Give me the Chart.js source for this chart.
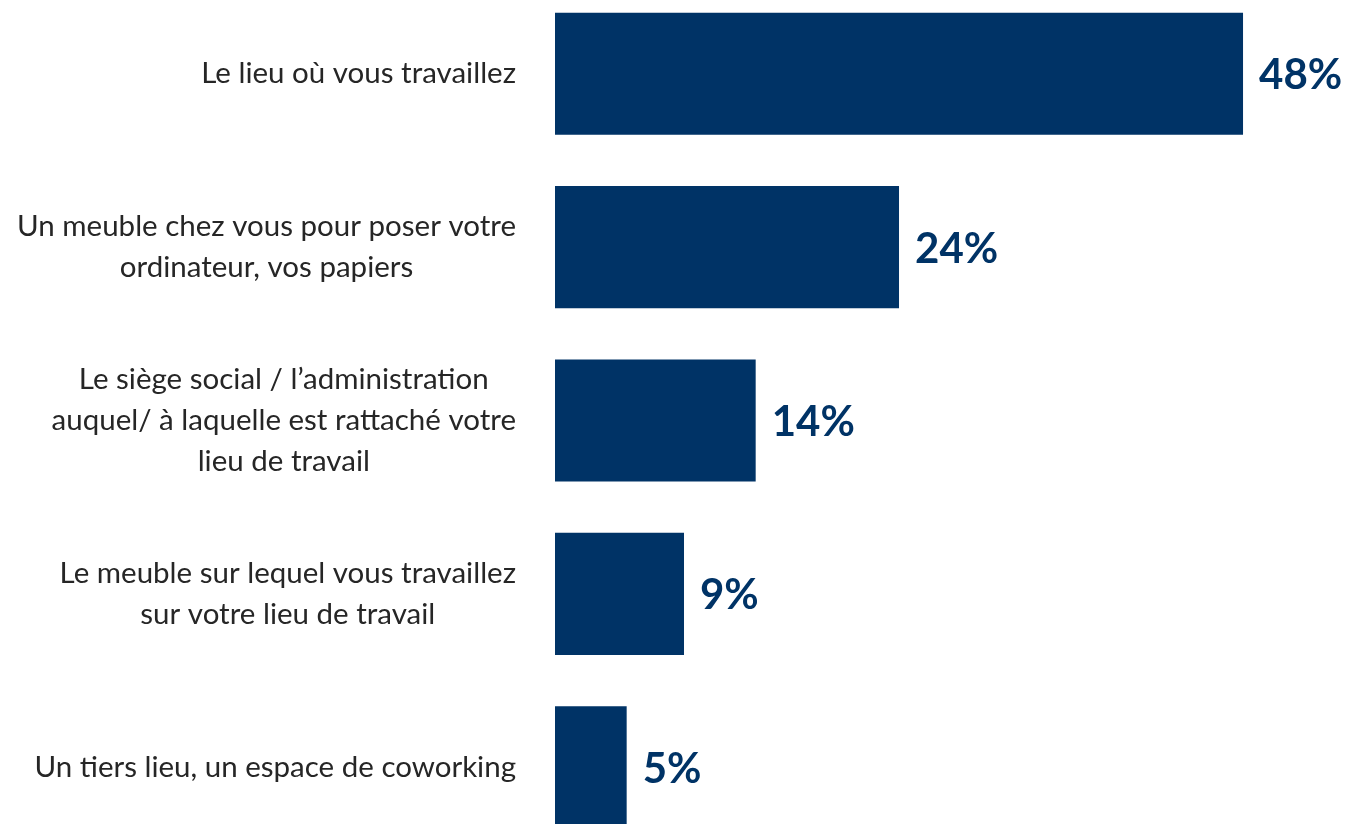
<!DOCTYPE html>
<html>
<head>
<meta charset="utf-8">
<script src="https://cdn.jsdelivr.net/npm/chart.js@4"></script>
<style>
html, body { margin:0; padding:0; width:1349px; height:824px; overflow:hidden; background:#fff; }
#wrap { position:absolute; left:0; top:-13px; width:1349px; height:867px; }
</style>
</head>
<body>
<div id="wrap"><canvas id="c"></canvas></div>
<script>
const categories = [
  ["Le lieu où vous travaillez"],
  ["Un meuble chez vous pour poser votre", "ordinateur, vos papiers"],
  ["Le siège social / l’administration", "auquel/ à laquelle est rattaché votre", "lieu de travail"],
  ["Le meuble sur lequel vous travaillez", "sur votre lieu de travail"],
  ["Un tiers lieu, un espace de coworking"]
];
const values = [48, 24, 14, 9, 5];
const valueLabels = ["48%", "24%", "14%", "9%", "5%"];

const BAR_COLOR = "#003366";
const LABEL_FONT = "29.5px Lato";
const VALUE_FONT = "bold 42px Lato";

const labelPlugin = {
  id: 'customLabels',
  afterDatasetsDraw(chart) {
    const ctx = chart.ctx;
    const yScale = chart.scales.y;
    const meta = chart.getDatasetMeta(0);
    ctx.save();
    ctx.font = LABEL_FONT;
    ctx.fillStyle = "#262626";
    ctx.textBaseline = "middle";
    ctx.textAlign = "center";
    const rightEdge = 516;
    const lineH = 41;
    categories.forEach((lines, i) => {
      const cy = yScale.getPixelForValue(i);
      const w = Math.max(...lines.map(l => ctx.measureText(l).width));
      const cx = rightEdge - w / 2;
      lines.forEach((l, j) => {
        const y = cy + (j - (lines.length - 1) / 2) * lineH;
        ctx.fillText(l, cx, y);
      });
    });
    ctx.font = VALUE_FONT;
    ctx.fillStyle = BAR_COLOR;
    ctx.textAlign = "left";
    meta.data.forEach((bar, i) => {
      ctx.fillText(valueLabels[i], bar.x + 16, bar.y + 2);
    });
    ctx.restore();
  }
};

new Chart(document.getElementById('c'), {
  type: 'bar',
  data: {
    labels: categories.map(c => c.join(' ')),
    datasets: [{
      data: values,
      backgroundColor: BAR_COLOR,
      borderWidth: 0,
      barPercentage: 0.704,
      categoryPercentage: 1.0
    }]
  },
  options: {
    indexAxis: 'y',
    responsive: true,
    maintainAspectRatio: false,
    animation: false,
    layout: { padding: { left: 555, right: 77.3, top: 0, bottom: 0 } },
    plugins: { legend: { display: false }, tooltip: { enabled: false } },
    scales: {
      x: { display: false, min: 0, max: 50 },
      y: { display: false }
    }
  },
  plugins: [labelPlugin]
});
</script>
</body>
</html>
